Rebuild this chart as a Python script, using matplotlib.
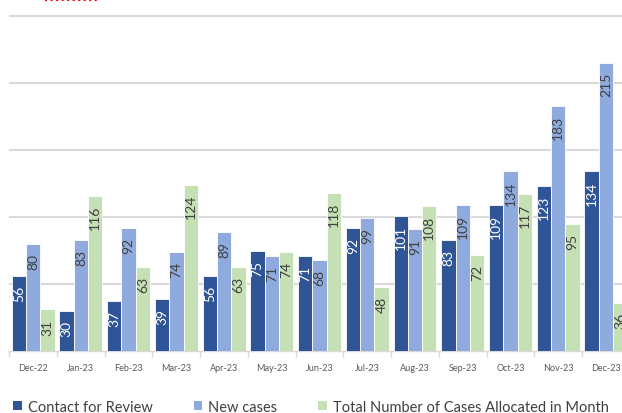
import numpy as np
import matplotlib
matplotlib.use("Agg")
import matplotlib.pyplot as plt
from matplotlib.patches import Patch
from matplotlib.lines import Line2D

## data
months = ['Dec-22', 'Jan-23', 'Feb-23', 'Mar-23', 'Apr-23', 'May-23', 'Jun-23',
          'Jul-23', 'Aug-23', 'Sep-23', 'Oct-23', 'Nov-23', 'Dec-23']
contact_review = [56, 30, 37, 39, 56, 75, 71, 92, 101, 83, 109, 123, 134]
new_cases = [80, 83, 92, 74, 89, 71, 68, 99, 91, 109, 134, 183, 215]
total_allocated = [31, 116, 63, 124, 63, 74, 118, 48, 108, 72, 117, 95, 36]

series = [
    ('Contact for Review', contact_review, '#2F5597', 'white'),
    ('New cases', new_cases, '#8FAADC', '#404040'),
    ('Total Number of Cases Allocated in Month', total_allocated, '#C5E0B4', '#404040'),
]

plt.rcParams['font.family'] = ['Lato', 'DejaVu Sans']

fig = plt.figure(figsize=(6.22, 4.14), dpi=100)
ax = fig.add_axes([9.3 / 622, 62 / 414, 1 - 9.3 / 622, 352 / 414])

x = np.arange(len(months))
width = 0.3
for i, (name, vals, color, tcolor) in enumerate(series):
    pos = x + (i - 1) * width
    ax.bar(pos, vals, width, color=color, edgecolor='white', linewidth=0.6, zorder=3)
    for px, v in zip(pos, vals):
        ax.annotate(str(v), (px, v), xytext=(0, -9), textcoords='offset pixels',
                    rotation=90, ha='center', va='top', fontsize=10, color=tcolor,
                    zorder=4, annotation_clip=False)

# gridlines
ax.set_yticks([50, 100, 150, 200, 250])
ax.yaxis.grid(True, color='#d9d9d9', linewidth=1.5, zorder=0)
ax.tick_params(axis='y', left=False, labelleft=False)

for s in ['top', 'right', 'left']:
    ax.spines[s].set_visible(False)
ax.spines['bottom'].set_color('#d9d9d9')
ax.spines['bottom'].set_linewidth(1.0)

ax.set_xticks(x)
ax.set_xticklabels(months, fontsize=6.5, color='#595959')
ax.tick_params(axis='x', length=0, pad=9)
ax.set_xticks(np.arange(-0.5, 12.4, 1), minor=True)
ax.tick_params(axis='x', which='minor', length=4, color='#d9d9d9', width=1)

## limits after the ticks, so set_xticks does not widen them
ax.set_xlim(-0.5, 12.337)
ax.set_ylim(0, 262.7)

handles = [Patch(facecolor=c, edgecolor='none', label=n) for n, _, c, _ in series]
fig.legend(handles=handles, loc='center', bbox_to_anchor=(0.5, 6 / 414), ncol=3,
           frameon=False, fontsize=10.5, handlelength=0.6, handleheight=0.6,
           handletextpad=0.4, columnspacing=2.8, labelcolor='#404040')

# red dotted squiggle at top
fig.add_artist(Line2D([45 / 622, 98 / 622], [1 - 1 / 414, 1 - 1 / 414],
                      color='red', linestyle=':', linewidth=1.5, transform=fig.transFigure))

fig.savefig('out.png', dpi=100, facecolor='white')
